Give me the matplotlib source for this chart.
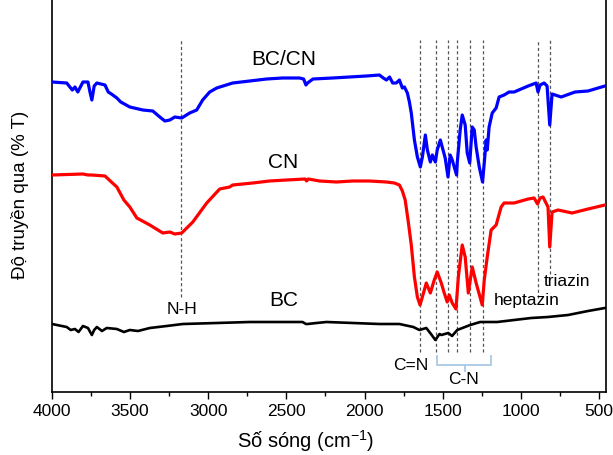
import numpy as np
import matplotlib.pyplot as plt

plt.rcParams['font.family'] = ['Liberation Sans', 'DejaVu Sans']
plt.rcParams['mathtext.default'] = 'regular'

# BC/CN (blue)
bccn_wn = [4000, 3906, 3870, 3853, 3835, 3802, 3770, 3757, 3745, 3730, 3713, 3661, 3640, 3620,
           3585, 3560, 3502, 3419, 3355, 3310, 3278, 3246, 3214, 3170, 3119, 3074, 3036, 2991,
           2946, 2844, 2735, 2627, 2525, 2416, 2390, 2375, 2365, 2330, 2205, 2097, 1988, 1905,
           1880, 1860, 1840, 1820, 1797, 1777, 1758, 1745, 1726, 1713, 1701, 1681, 1662, 1643,
           1630, 1611, 1598, 1579, 1566, 1547, 1535, 1515, 1503, 1484, 1466, 1452, 1439, 1411,
           1407, 1388, 1375, 1356, 1343, 1327, 1311, 1298, 1286, 1266, 1245, 1234, 1222, 1215,
           1203, 1183, 1158, 1139, 1107, 1075, 1043, 953, 902, 890, 877, 851, 832, 815, 800,
           742, 653, 570, 462]
bccn_t = [310, 309, 302, 305, 300, 310, 310, 300, 292, 306, 309, 307, 300, 298,
          294, 290, 285, 282, 281, 275, 271, 272, 275, 274, 279, 282, 292, 300,
          304, 309, 311, 313, 314, 314, 313, 307, 309, 313, 314, 315, 316, 317,
          314, 312, 315, 309, 309, 312, 304, 305, 299, 290, 279, 252, 235, 225,
          235, 257, 242, 230, 237, 230, 242, 252, 245, 234, 215, 237, 232, 217,
          229, 262, 277, 267, 239, 229, 265, 262, 245, 225, 210, 229, 252, 242,
          265, 279, 284, 295, 297, 300, 300, 306, 309, 300, 307, 309, 306, 267, 298,
          295, 300, 301, 306]

# CN (red)
cn_wn = [4000, 3802, 3770, 3745, 3661, 3620, 3585, 3540, 3502, 3457, 3374, 3291, 3246, 3214,
         3170, 3099, 3010, 2927, 2863, 2844, 2716, 2608, 2499, 2380, 2371, 2360, 2288, 2180,
         2078, 1969, 1860, 1809, 1777, 1758, 1740, 1720, 1701, 1681, 1662, 1645,
         1630, 1605, 1579, 1554, 1535, 1509, 1490, 1471, 1458, 1439, 1415, 1400, 1375, 1356,
         1336, 1311, 1286, 1247, 1234, 1215, 1190, 1158, 1126, 1107, 1043, 953, 915, 893, 877,
         858, 826, 815, 800, 762, 672, 570, 462]
cn_t = [217, 218, 217, 217, 216, 210, 205, 192, 185, 174, 167, 159, 160, 158,
        159, 170, 189, 203, 205, 207, 209, 211, 212, 213, 211, 213, 211, 210,
        211, 211, 210, 209, 207, 201, 192, 170, 147, 115, 95, 87,
        95, 109, 99, 112, 120, 109, 99, 90, 97, 89, 83, 115, 147, 135,
        99, 125, 109, 87, 112, 135, 162, 167, 185, 189, 189, 193, 194, 188, 194,
        195, 185, 145, 180, 182, 179, 183, 187]

# BC (black)
bc_wn = [4000, 3906, 3880, 3853, 3830, 3802, 3770, 3745, 3730, 3713, 3680, 3650, 3585, 3540,
         3502, 3450, 3374, 3266, 3163, 2946, 2735, 2525, 2397, 2375, 2365, 2307, 2244, 1905,
         1777, 1688, 1649, 1605, 1575, 1547, 1520, 1509, 1464, 1440, 1407, 1324, 1260, 1151,
         1043, 934, 826, 698, 570, 462]
bc_t = [68, 65, 62, 63, 60, 66, 64, 57, 62, 65, 61, 64, 63, 60,
        62, 61, 64, 66, 68, 69, 70, 70, 70, 68, 68, 69, 70, 68,
        68, 65, 62, 64, 58, 52, 58, 57, 59, 56, 62, 67, 70, 70,
        72, 74, 75, 77, 81, 84]

# marker lines: wavenumber, bottom end
mark_wn = [3172, 1644, 1545, 1465, 1411, 1327, 1243, 893, 815]
mark_bot = [95, 40, 40, 40, 40, 40, 40, 94, 118]
mark_top = 352

fig = plt.figure(figsize=(6.13, 4.55), dpi=100)
ax = fig.add_axes([52 / 613, 63 / 455, 554 / 613, 392 / 455])

for w, b in zip(mark_wn, mark_bot):
    ax.plot([w, w], [b, mark_top], color='#555555', lw=0.9, ls=(0, (2.5, 2)), zorder=1)

ax.plot(bccn_wn, bccn_t, color='#0000ff', lw=2.3, zorder=3)
ax.plot(cn_wn, cn_t, color='#ff0000', lw=2.3, zorder=3)
ax.plot(bc_wn, bc_t, color='black', lw=1.9, zorder=3)

ax.text(2518, 333, 'BC/CN', fontsize=15, ha='center', va='center')
ax.text(2518, 229, 'CN', fontsize=15, ha='center', va='center')
ax.text(2518, 92, 'BC', fontsize=15, ha='center', va='center')
ax.text(3170, 83, 'N-H', fontsize=12.5, ha='center', va='center')
ax.text(1707, 27, 'C=N', fontsize=12.5, ha='center', va='center')
ax.text(1369, 13, 'C-N', fontsize=12.5, ha='center', va='center')
ax.text(960, 91, 'heptazin', fontsize=12.5, ha='center', va='center')
ax.text(704, 111, 'triazin', fontsize=12.5, ha='center', va='center')

# bracket under C-N
bc_col = '#a9c8e6'
ax.plot([1535, 1535, 1193, 1193], [36, 27.5, 27.5, 36], color=bc_col, lw=1.3)
ax.plot([1359, 1359], [27.5, 21], color=bc_col, lw=1.3)

ax.set_xlim(4000, 455)
ax.set_ylim(0, 392)
ax.set_xticks(np.arange(4000, 499, -500))
ax.set_xticks(np.arange(3750, 499, -500), minor=True)
ax.tick_params(axis='x', which='major', direction='out', length=5, width=1, labelsize=12.5)
ax.tick_params(axis='x', which='minor', direction='out', length=3, width=1)
ax.set_yticks([])
ax.spines['top'].set_visible(False)
for s in ['left', 'right', 'bottom']:
    ax.spines[s].set_linewidth(1.2)

fig.text(306 / 613, 1 - 441 / 455, 'Số sóng (cm$^{-1}$)', fontsize=14.5, ha='center', va='center')
fig.text(20 / 613, 1 - 195 / 455, 'Độ truyền qua (% T)', fontsize=13.5, ha='center', va='center',
         rotation=90)

fig.savefig('out.png', dpi=100)
